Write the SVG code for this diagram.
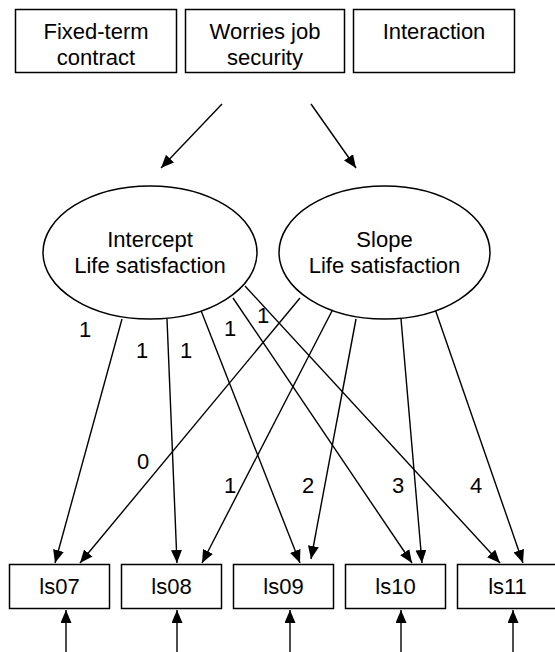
<svg xmlns="http://www.w3.org/2000/svg" width="555" height="652" viewBox="0 0 555 652">
<style>
.box{fill:#fff;stroke:#000;stroke-width:1.5}
.ell{fill:#fff;stroke:#000;stroke-width:1.5}
.t{font-family:"Liberation Sans",Arial,sans-serif;font-size:22px;fill:#000;text-anchor:middle}
.c{stroke:#000;stroke-width:1.4;fill:none;marker-end:url(#ah)}
</style>
<defs>
<marker id="ah" markerUnits="userSpaceOnUse" markerWidth="13" markerHeight="11" refX="13" refY="5.5" orient="auto">
<path d="M0,0 L13,5.5 L0,11 z" fill="#000"/>
</marker>
</defs>
<rect width="555" height="652" fill="#fff"/>
<g id="connectors">
<line class="c" x1="222" y1="104" x2="161" y2="168"/>
<line class="c" x1="311" y1="104" x2="356" y2="168"/>
<line class="c" x1="122" y1="319" x2="55" y2="563"/>
<line class="c" x1="167" y1="319" x2="177" y2="563"/>
<line class="c" x1="200" y1="308" x2="300" y2="563"/>
<line class="c" x1="233" y1="298" x2="412" y2="563"/>
<line class="c" x1="245" y1="286" x2="500" y2="563"/>
<line class="c" x1="300" y1="298" x2="80" y2="563"/>
<line class="c" x1="333" y1="309" x2="202" y2="563"/>
<line class="c" x1="356" y1="319" x2="311" y2="559"/>
<line class="c" x1="401" y1="319" x2="422" y2="563"/>
<line class="c" x1="435" y1="309" x2="523" y2="563"/>
<line class="c" x1="66" y1="652" x2="66" y2="610"/>
<line class="c" x1="177" y1="652" x2="177" y2="610"/>
<line class="c" x1="290" y1="652" x2="290" y2="610"/>
<line class="c" x1="401" y1="652" x2="401" y2="610"/>
<line class="c" x1="513" y1="652" x2="513" y2="610"/>
<g class="t">
<text x="85" y="337">1</text>
<text x="142" y="358">1</text>
<text x="186" y="358">1</text>
<text x="230" y="336">1</text>
<text x="263" y="323">1</text>
<text x="143" y="469">0</text>
<text x="230" y="493">1</text>
<text x="308" y="493">2</text>
<text x="398" y="493">3</text>
<text x="476" y="493">4</text>
</g>
</g>
<g id="fixed">
<rect class="box" x="15.5" y="9.5" width="161" height="63"/>
<text class="t" x="96" y="39">Fixed-term</text>
<text class="t" x="96" y="65">contract</text>
</g>
<g id="worries">
<rect class="box" x="185.5" y="9.5" width="159" height="63"/>
<text class="t" x="265" y="39">Worries job</text>
<text class="t" x="265" y="65">security</text>
</g>
<g id="interaction">
<rect class="box" x="353.5" y="9.5" width="161" height="63"/>
<text class="t" x="434" y="39">Interaction</text>
</g>
<g id="intercept">
<ellipse class="ell" cx="150" cy="252.5" rx="107" ry="66.5"/>
<text class="t" x="150" y="247">Intercept</text>
<text class="t" x="150" y="273">Life satisfaction</text>
</g>
<g id="slope">
<ellipse class="ell" cx="384.5" cy="252.5" rx="105.5" ry="66.5"/>
<text class="t" x="384.5" y="247">Slope</text>
<text class="t" x="384.5" y="273">Life satisfaction</text>
</g>
<g id="ls07">
<rect class="box" x="9.5" y="564.5" width="100" height="44"/>
<text class="t" x="59.5" y="594">ls07</text>
</g>
<g id="ls08">
<rect class="box" x="121.5" y="564.5" width="100" height="44"/>
<text class="t" x="171.5" y="594">ls08</text>
</g>
<g id="ls09">
<rect class="box" x="233.5" y="564.5" width="100" height="44"/>
<text class="t" x="283.5" y="594">ls09</text>
</g>
<g id="ls10">
<rect class="box" x="345.5" y="564.5" width="100" height="44"/>
<text class="t" x="395.5" y="594">ls10</text>
</g>
<g id="ls11">
<rect class="box" x="457.5" y="564.5" width="100" height="44"/>
<text class="t" x="507.5" y="594">ls11</text>
</g>
</svg>
